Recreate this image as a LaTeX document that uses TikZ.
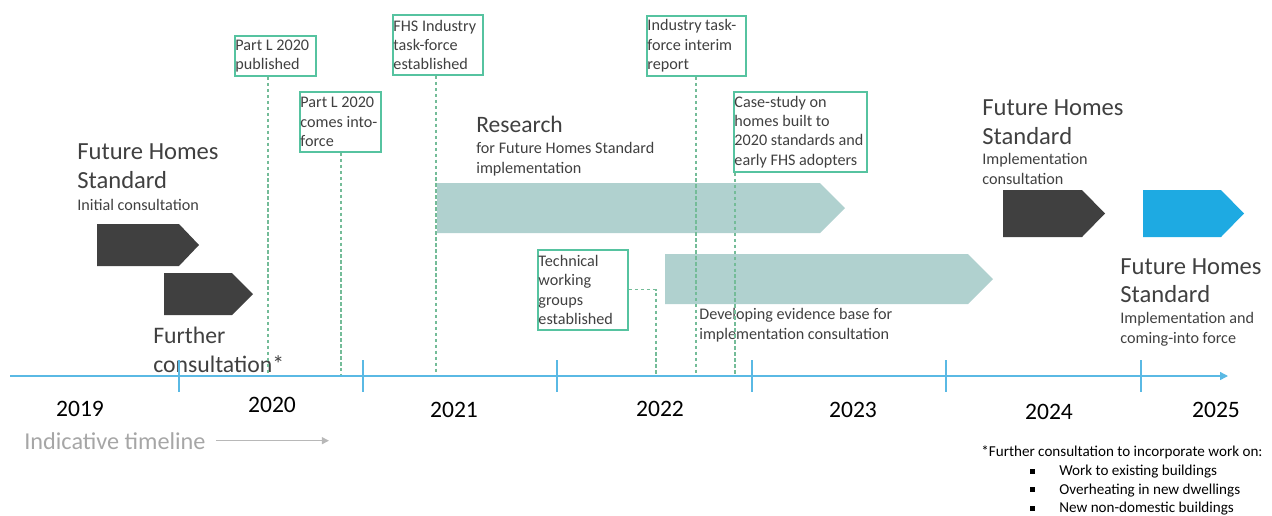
\documentclass[tikz,border=0pt]{standalone}
\usepackage{fontspec}
\setmainfont{Carlito}
\usetikzlibrary{arrows.meta}
\definecolor{darkgrey}{HTML}{404040}
\definecolor{tealshade}{HTML}{B0D1CF}
\definecolor{skyblue}{HTML}{1EAAE2}
\definecolor{axisblue}{HTML}{5AB9E4}
\definecolor{boxgreen}{HTML}{56C3A0}
\definecolor{guidegreen}{HTML}{74BC98}
\definecolor{softgrey}{HTML}{A6A6A6}

\begin{document}
\begin{tikzpicture}[x=0.02cm,y=-0.02cm,
    title/.style={anchor=base west,inner sep=0,text=darkgrey,align=flush left,font=\fontsize{14}{16.4}\selectfont},
    sub/.style={anchor=base west,inner sep=0,text=darkgrey,align=flush left,font=\fontsize{9.2}{11.2}\selectfont},
    event/.style={draw=boxgreen,line width=1.1pt,anchor=north west,inner xsep=0.01cm,inner ysep=0,
        text=darkgrey,align=flush left,font=\fontsize{9.2}{11}\selectfont},
    guide/.style={draw=guidegreen,line width=0.6pt,dash pattern=on 2pt off 1.4pt},
    axis/.style={draw=axisblue,line width=0.8pt,-{Triangle[length=4.5pt,width=4.5pt]}},
    yeartick/.style={draw=axisblue,line width=0.8pt},
    year/.style={anchor=base,inner sep=0,font=\fontsize{13.4}{14}\selectfont},
    note/.style={anchor=base west,inner sep=0,text=black,font=\fontsize{8.6}{10}\selectfont}]
    \useasboundingbox (0,0) rectangle (1272,515);

    % arrows of the timeline
    \fill[darkgrey] (97,224) -- (179,224) -- (199,245) -- (179,266) -- (97,266) -- cycle;
    \fill[darkgrey] (164,273) -- (232,273) -- (253,294) -- (232,315) -- (164,315) -- cycle;
    \fill[tealshade] (437,183) -- (820,183) -- (845,208) -- (820,233) -- (437,233) -- cycle;
    \fill[tealshade] (665,254) -- (968,254) -- (993,279) -- (968,304) -- (665,304) -- cycle;
    \fill[darkgrey] (1003,190) -- (1082,190) -- (1105,213.5) -- (1082,237) -- (1003,237) -- cycle;
    \fill[skyblue] (1143,190) -- (1221,190) -- (1244,213.5) -- (1221,237) -- (1143,237) -- cycle;

    % headings (placed at the baseline of their last line)
    \node[title] (fhsinit) at (77,188) {Future Homes\\Standard};
    \node[sub] (fhsinitsub) at (77,210) {Initial consultation};
    \node[title,font=\fontsize{13.5}{16.4}\selectfont] (further) at (153,372) {Further\\consultation*};
    \node[title,font=\fontsize{13.4}{15}\selectfont] (research) at (476,132) {Research};
    \node[sub] (researchsub) at (476,173) {for Future Homes Standard\\implementation};
    \node[sub] (evidence) at (699,339) {Developing evidence base for\\implementation consultation};
    \node[title] (fhsimpl) at (982,144) {Future Homes\\Standard};
    \node[sub] (fhsimplsub) at (982,184) {Implementation\\consultation};
    \node[title,font=\fontsize{14}{15.5}\selectfont] (fhsforce) at (1120,302) {Future Homes\\Standard};
    \node[sub] (fhsforcesub) at (1120,343) {Implementation and\\coming-into force};

    % milestones
    \node[event,text width=1.6cm,minimum height=0.8cm] (published) at (234,35) {Part L 2020\\published};
    \node[event,text width=1.6cm,minimum height=1.2cm] (intoforce) at (299,91) {Part L 2020\\comes into-\\force};
    \node[event,text width=1.78cm,minimum height=1.2cm] (taskforce) at (392,14) {FHS Industry\\task-force\\established};
    \node[event,text width=1.96cm,minimum height=1.2cm] (interim) at (646,15) {Industry task-\\force interim\\report};
    \node[event,text width=2.64cm,minimum height=1.6cm] (casestudy) at (733,91) {Case-study on\\homes built to\\2020 standards and\\early FHS adopters};
    \node[event,text width=1.78cm,minimum height=1.6cm] (technical) at (537,249) {Technical\\working\\groups\\established};

    % timeline
    \coordinate (axisstart) at (10,376);
    \coordinate (axisend) at (1228,376);
    \coordinate (g1) at (268,376);
    \coordinate (g2) at (341,376);
    \coordinate (g3) at (436,376);
    \coordinate (g4) at (696,376);
    \coordinate (g5) at (735,376);
    \coordinate (g6) at (656,376);

    \draw[guide] (published.south -| g1) -- (g1);
    \draw[guide] (intoforce.south -| g2) -- (g2);
    \draw[guide] (taskforce.south -| g3) -- (g3);
    \draw[guide] (interim.south -| g4) -- (g4);
    \draw[guide] (casestudy.south -| g5) -- (g5);
    \draw[guide] (technical.east) -| (g6);

    \draw[axis] (axisstart) -- (axisend);
    \foreach \x in {179,363,557,752,946,1141}
        \draw[yeartick] (\x,360) -- (\x,392);
    \foreach \x/\yr/\b in {80/2019/416,272/2020/412,454/2021/417,660/2022/416,853/2023/417,1049/2024/419,1216/2025/417}
        \node[year] (yr\yr) at (\x,\b) {\yr};

    \node[anchor=base west,inner sep=0,text=softgrey,font=\fontsize{13.8}{15}\selectfont] (indicative) at (24,449) {Indicative timeline};
    \draw[draw=softgrey!80,line width=0.7pt,-{Triangle[length=4pt,width=4pt]}] ([xshift=0.2cm]indicative.east) -- ++(113,0);

    % footnote
    \node[note] (footnote) at (981,456) {*Further consultation to incorporate work on:};
    \foreach \txt [count=\i] in {Work to existing buildings,Overheating in new dwellings,New non-domestic buildings} {
        \node[note] (item\i) at (1059,457+18.5*\i) {\txt};
        \fill (1029.5,450+18.5*\i) rectangle +(5,5);
    }
\end{tikzpicture}
\end{document}
